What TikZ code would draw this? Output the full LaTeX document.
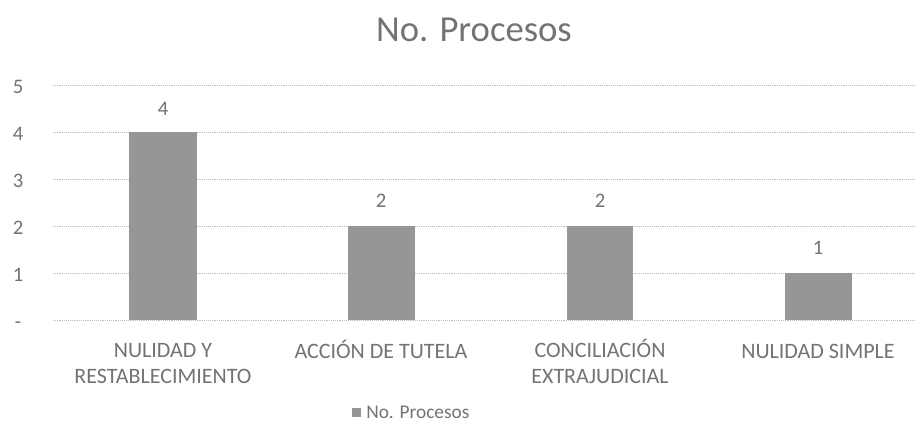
\documentclass[tikz,border=0pt]{standalone}
\usepackage{fontspec}
\setmainfont{Carlito}
\definecolor{txtgray}{RGB}{115,115,115}
\definecolor{bargray}{RGB}{150,150,150}
\definecolor{gridgray}{RGB}{190,190,190}

\begin{document}
\begin{tikzpicture}[x=0.75pt,y=-0.75pt,
    gridline/.style={draw=gridgray,densely dotted,thin},
    barbox/.style={fill=bargray,draw=none},
    ticklbl/.style={text=txtgray,font=\fontsize{15.5}{18}\selectfont,anchor=base},
    catlbl/.style={text=txtgray,font=\fontsize{16.5}{18.8}\selectfont,align=center,anchor=base}]
            \useasboundingbox (0,0) rectangle (922,432);

            \node [text=txtgray,font=\fontsize{27.5}{30}\selectfont,anchor=base] (title) at (474,41) {No. Procesos};

            % gridlines, 47px per unit, zero at y=320
            \foreach \v/\t in {0/-,1/1,2/2,3/3,4/4,5/5}
                {\draw [gridline] (53,320-47*\v) -- (915,320-47*\v);
                 \node [ticklbl] (tick\v) at (18,328-47*\v) {\t};}

            % bars: centre x, value
            \draw [barbox] (129,320) rectangle (197,132);
            \draw [barbox] (348,320) rectangle (415,226);
            \draw [barbox] (567,320) rectangle (633,226);
            \draw [barbox] (785,320) rectangle (852,273);

            \node [ticklbl] (val1) at (163,115) {4};
            \node [ticklbl] (val2) at (381,207) {2};
            \node [ticklbl] (val3) at (600,207) {2};
            \node [ticklbl] (val4) at (818,254) {1};

            % two-line labels sit on their last baseline
            \node [catlbl] (cat1) at (163,383) {NULIDAD Y\\RESTABLECIMIENTO};
            \node [catlbl] (cat2) at (381,358) {ACCIÓN DE TUTELA};
            \node [catlbl] (cat3) at (600,383) {CONCILIACIÓN\\EXTRAJUDICIAL};
            \node [catlbl] (cat4) at (818,358) {NULIDAD SIMPLE};

            \node [text=txtgray,font=\fontsize{14.5}{16}\selectfont,anchor=base west,inner sep=0pt] (legend) at (366,418) {No. Procesos};
            \draw [barbox] (352,408) rectangle (361,417);
        \end{tikzpicture}
\end{document}
